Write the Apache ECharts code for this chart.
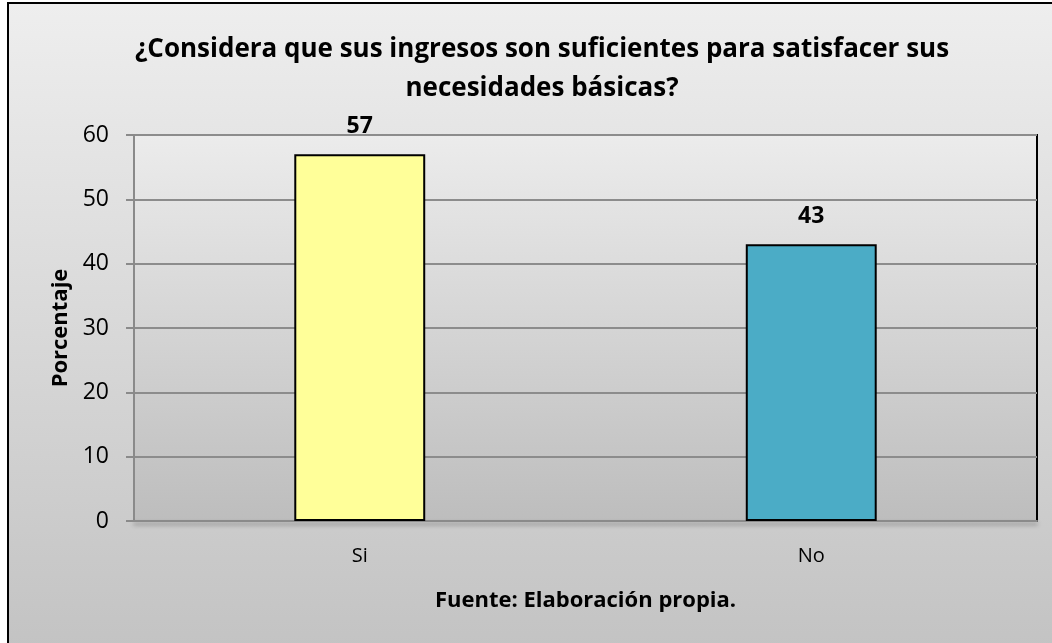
<!DOCTYPE html>
<html>
<head>
<meta charset="utf-8">
<script src="https://cdn.jsdelivr.net/npm/echarts@6/dist/echarts.min.js"></script>
<style>
  html, body { margin: 0; padding: 0; background: #fff; overflow: hidden; }
  #frame {
    position: absolute; left: 7px; top: 2px; width: 1060px; height: 660px;
    border: 2px solid #000;
    background: linear-gradient(#eeeeee, #c2c2c2);
  }
  #chart { position: absolute; left: 0; top: 0; width: 1052px; height: 643px; }
</style>
</head>
<body>
<div id="frame"></div>
<div id="chart"></div>
<script>
var categories = ['Si', 'No']
var values = [57, 43]
var barColors = ['#ffff99', '#4bacc6']
var yTicks = [0, 10, 20, 30, 40, 50, 60]

var font = 'Open Sans'
var myChart = echarts.init(document.getElementById('chart'));

var option = {
  backgroundColor: 'transparent',
  title: {
    text: '¿Considera que sus ingresos son suficientes para satisfacer sus\nnecesidades básicas?',
    left: 537,
    top: 25,
    textAlign: 'center',
    textStyle: {
      fontFamily: font,
      fontWeight: 'bold',
      fontSize: 26,
      lineHeight: 39,
      color: '#000'
    }
  },
  grid: {
    left: 134,
    top: 135,
    right: 15,
    bottom: 122,
    show: true,
    borderColor: '#000',
    borderWidth: 2,
    backgroundColor: new echarts.graphic.LinearGradient(0, 0, 0, 1, [
      { offset: 0, color: '#ececec' },
      { offset: 1, color: '#bdbdbd' }
    ])
  },
  xAxis: {
    type: 'category',
    data: categories,
    name: 'Fuente: Elaboración propia.',
    nameLocation: 'middle',
    nameGap: 69,
    nameTextStyle: { fontFamily: font, fontWeight: 'bold', fontSize: 22, color: '#000' },
    axisLine: {
      lineStyle: { color: '#8a8a8a', width: 2, shadowColor: 'rgba(0,0,0,0.35)', shadowBlur: 4, shadowOffsetY: 3 }
    },
    axisTick: { show: false },
    axisLabel: { fontFamily: font, fontSize: 20, color: '#000', margin: 25 }
  },
  yAxis: {
    type: 'value',
    min: yTicks[0],
    max: yTicks[yTicks.length - 1],
    interval: 10,
    name: 'Porcentaje',
    nameLocation: 'middle',
    nameGap: 61,
    nameTextStyle: { fontFamily: font, fontWeight: 'bold', fontSize: 22, color: '#000' },
    axisLine: { show: true, lineStyle: { color: '#8a8a8a', width: 2 } },
    axisTick: { show: true, length: 8, lineStyle: { color: '#8a8a8a', width: 2 } },
    axisLabel: { fontFamily: font, fontSize: 23, color: '#000', margin: 25 },
    splitLine: { lineStyle: { color: '#8c8c8c', width: 2 } }
  },
  series: [{
    type: 'bar',
    barWidth: '29%',
    data: values.map(function(v, i) {
      return { value: v, itemStyle: { color: barColors[i] } }
    }),
    itemStyle: { borderColor: '#000', borderWidth: 2 },
    label: {
      show: true,
      position: 'top',
      distance: 16,
      fontFamily: font,
      fontWeight: 'bold',
      fontSize: 23,
      color: '#000'
    }
  }]
};

myChart.setOption(option);
</script>
</body>
</html>
